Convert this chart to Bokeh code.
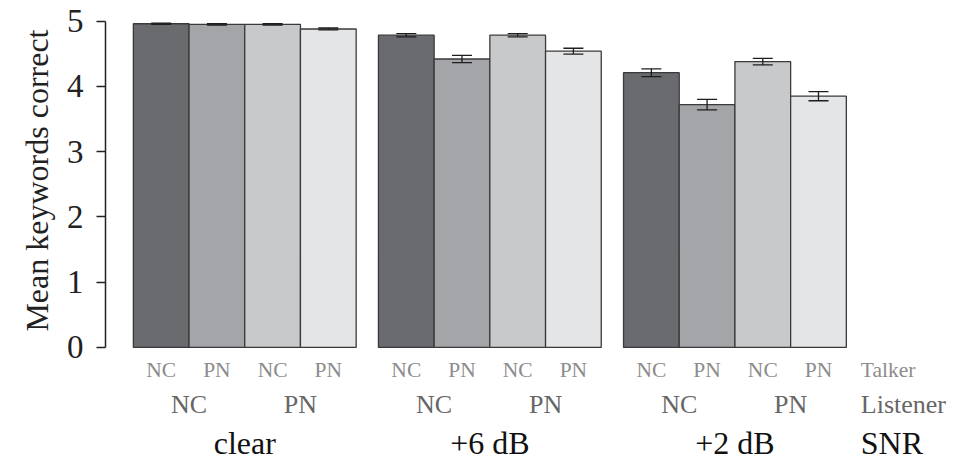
from bokeh.plotting import figure
from bokeh.models import ColumnDataSource, Whisker, TeeHead, FixedTicker, Title
from bokeh.core.properties import value
from bokeh.embed import file_html
from bokeh.resources import INLINE

# ---- data ----
snr_levels = ["clear", "+6 dB", "+2 dB"]
listeners = ["NC", "PN"]
talkers = ["NC", "PN"]
means_clear = [4.96, 4.95, 4.95, 4.88]
means_6db = [4.785, 4.42, 4.785, 4.54]
means_2db = [4.21, 3.72, 4.38, 3.85]
err_clear = [0.01, 0.01, 0.01, 0.015]
err_6db = [0.025, 0.055, 0.025, 0.045]
err_2db = [0.06, 0.08, 0.05, 0.07]
row_names = ["Talker", "Listener", "SNR"]
y_ticks = [0, 1, 2, 3, 4, 5]
y_title = "Mean keywords correct"

bar_colors = ["#6a6b6f", "#a4a5a9", "#c8c9cb", "#e4e5e7"]
FONT = "Liberation Serif"
GAP = 0.4

means = [means_clear, means_6db, means_2db]
errs = [err_clear, err_6db, err_2db]

xs, tops, cols, up, lo = [], [], [], [], []
tx, tl = [], []
lx, ll = [], []
sx, sl = [], []
for g, snr in enumerate(snr_levels):
    base = g * (4 + GAP)
    k = 0
    for li, lis in enumerate(listeners):
        lx.append(base + 2 * li + 1.0)
        ll.append(lis)
        for ti, tal in enumerate(talkers):
            x = base + k + 0.5
            xs.append(x)
            tops.append(means[g][k])
            up.append(means[g][k] + errs[g][k])
            lo.append(means[g][k] - errs[g][k])
            cols.append(bar_colors[k])
            tx.append(x)
            tl.append(tal)
            k += 1
    sx.append(base + 2.0)
    sl.append(snr)

src = ColumnDataSource(dict(x=xs, top=tops, color=cols, upper=up, lower=lo))

p = figure(width=955, height=464, output_backend="svg", toolbar_location=None,
           x_range=(-0.5, 14.67), y_range=(-1.795, 5.24),
           x_axis_type=None, min_border_left=105, min_border_right=5,
           min_border_top=5, min_border_bottom=0)
p.outline_line_color = None
p.xgrid.visible = False
p.ygrid.visible = False
p.background_fill_color = "white"
p.border_fill_color = "white"

p.vbar(x="x", top="top", bottom=0, width=1.0, fill_color="color",
       line_color="#3a3a3a", line_width=1.3, source=src)

wh = Whisker(base="x", upper="upper", lower="lower", source=src, level="overlay",
             line_color="#1e1e1e", line_width=1.3,
             upper_head=TeeHead(size=20, line_color="#1e1e1e", line_width=1.3),
             lower_head=TeeHead(size=20, line_color="#1e1e1e", line_width=1.3))
p.add_layout(wh)

ax = p.yaxis[0]
ax.bounds = (0, 5)
ax.ticker = FixedTicker(ticks=y_ticks)
ax.minor_tick_line_color = None
ax.major_tick_in = 0
ax.major_tick_out = 9
ax.major_tick_line_width = 1.5
ax.axis_line_width = 1.5
ax.axis_line_color = "#222222"
ax.major_tick_line_color = "#222222"
ax.major_label_text_font = FONT
ax.major_label_text_font_size = "33px"
ax.major_label_text_color = "#222222"
ax.major_label_standoff = 13

# axis title placed in the left panel, aligned to the top part of the axis
p.add_layout(Title(text=y_title, align="right", offset=24, standoff=18,
                   text_font=FONT, text_font_size="32px",
                   text_font_style="normal", text_color="#222222"), "left")

y_talk, y_list, y_snr = -0.353, -0.875, -1.46

p.text(x=tx, y=[y_talk] * len(tx), text=tl, text_font=value(FONT),
       text_font_size="21.5px", text_color="#8c8c8c",
       text_align="center", text_baseline="middle")
p.text(x=lx, y=[y_list] * len(lx), text=ll, text_font=value(FONT),
       text_font_size="26px", text_color="#666666",
       text_align="center", text_baseline="middle")
p.text(x=sx, y=[y_snr] * len(sx), text=sl, text_font=value(FONT),
       text_font_size="32px", text_color="#111111",
       text_align="center", text_baseline="middle")

rx = 13.06
p.text(x=[rx], y=[y_talk], text=[row_names[0]], text_font=value(FONT),
       text_font_size="21.5px", text_color="#8c8c8c", text_align="left", text_baseline="middle")
p.text(x=[rx], y=[y_list], text=[row_names[1]], text_font=value(FONT),
       text_font_size="26px", text_color="#666666", text_align="left", text_baseline="middle")
p.text(x=[rx], y=[y_snr], text=[row_names[2]], text_font=value(FONT),
       text_font_size="32px", text_color="#111111", text_align="left", text_baseline="middle")

open("out.html", "w").write(file_html(p, INLINE))
